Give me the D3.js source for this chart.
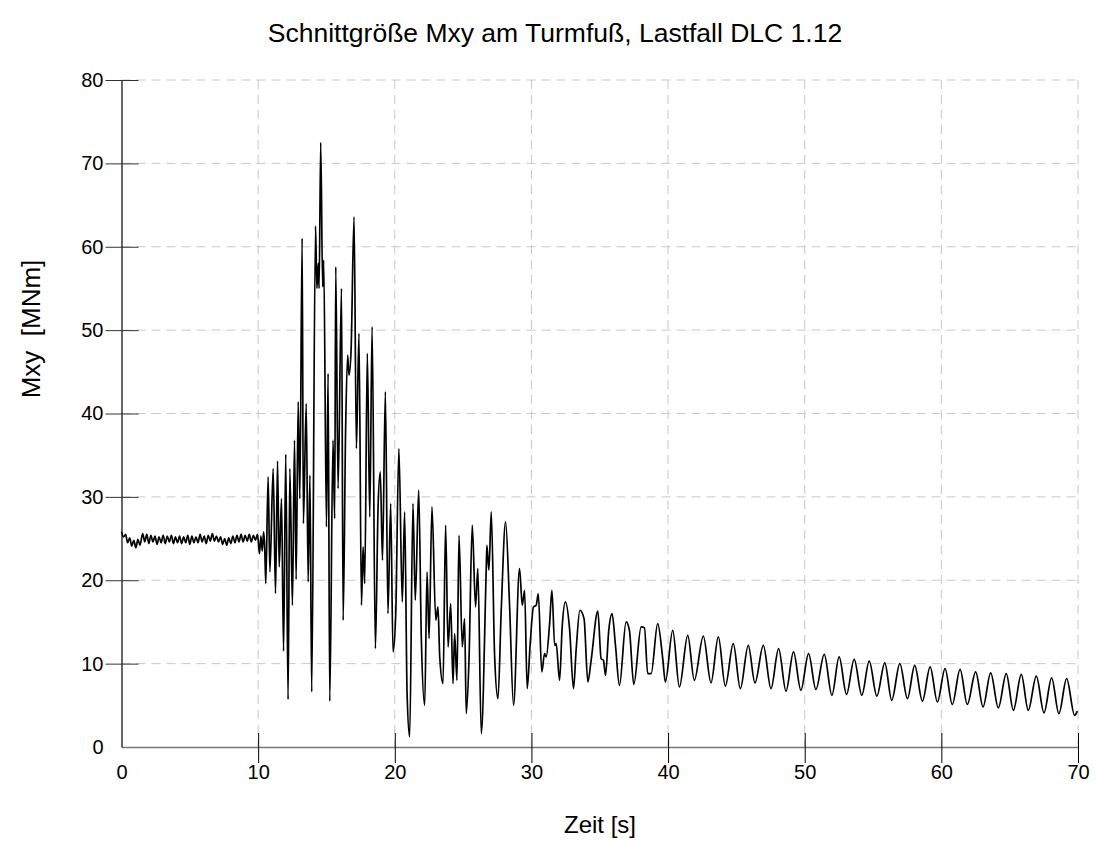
<!DOCTYPE html>
<html>
<head>
<meta charset="utf-8">
<script src="https://cdn.jsdelivr.net/npm/d3@7"></script>
<style>
  body { margin: 0; background: #fff; }
  text { font-family: "Liberation Sans", Arial, sans-serif; fill: #000; }
</style>
</head>
<body>
<div id="chart"></div>
<script>
// time [s] of each read point
var zeit = [
  0.00, 0.15, 0.30, 0.45, 0.60, 0.75, 0.90, 1.05, 1.20, 1.35, 1.55, 1.70, 1.85, 2.00, 2.15, 2.30,
  2.45, 2.60, 2.75, 2.90, 3.05, 3.20, 3.35, 3.50, 3.65, 3.80, 3.95, 4.10, 4.25, 4.40, 4.55, 4.70,
  4.85, 5.00, 5.15, 5.30, 5.45, 5.60, 5.75, 5.90, 6.05, 6.20, 6.35, 6.50, 6.65, 6.80, 6.95, 7.10,
  7.25, 7.40, 7.55, 7.70, 7.85, 8.00, 8.15, 8.30, 8.45, 8.60, 8.75, 8.90, 9.05, 9.20, 9.35, 9.50,
  9.65, 9.80, 9.95, 10.10, 10.20, 10.30, 10.40, 10.48,
  10.56, 10.73, 10.86, 11.10, 11.27, 11.42, 11.54, 11.71, 11.86, 12.02, 12.19, 12.32, 12.51, 12.66,
  12.78, 12.93, 13.05, 13.22, 13.31, 13.52, 13.66, 13.79, 13.92, 14.20, 14.30, 14.40, 14.46, 14.58,
  14.72, 14.80, 15.00, 15.12, 15.24, 15.48, 15.60, 15.68, 15.85, 16.10, 16.22, 16.40, 16.55, 16.65,
  16.80, 17.02, 17.19, 17.38, 17.56, 17.68, 17.80, 17.99, 18.17, 18.34, 18.58, 18.78, 18.94, 19.10,
  19.31, 19.50, 19.70, 19.87, 20.07, 20.30, 20.55, 20.72, 20.90, 21.09, 21.33, 21.50, 21.75, 21.94,
  22.19, 22.36, 22.51, 22.72, 23.00, 23.16, 23.29, 23.53, 23.72, 23.90, 24.09, 24.26, 24.38, 24.55,
  24.70, 24.94, 25.11, 25.23, 25.43, 25.67, 25.91, 26.08, 26.33, 26.69, 26.74, 26.89, 27.06, 27.30,
  27.55, 27.79, 28.11, 28.40, 28.69, 29.13, 29.33, 29.50, 29.69, 29.91, 30.15, 30.35, 30.50, 30.76,
  30.96, 31.08, 31.33, 31.50, 31.70, 31.81, 32.06, 32.25, 32.49, 32.79, 33.08, 33.27, 33.55, 33.85,
  34.13, 34.37, 34.86, 35.10, 35.27, 35.42, 35.66, 35.90, 36.15, 36.44, 36.93, 37.17, 37.49, 38.03,
  38.27, 38.51, 38.76, 39.24, 39.61, 39.80, 40.34, 40.83, 41.44, 41.92, 42.58, 43.14, 43.68, 44.19,
  44.77, 45.29, 45.87, 46.36, 46.97, 47.53, 48.09, 48.63, 49.18, 49.72, 50.28, 50.82, 51.43, 51.99,
  52.52, 53.06, 53.62, 54.18, 54.72, 55.28, 55.86, 56.37, 56.96, 57.52, 58.05, 58.61, 59.18, 59.71,
  60.27, 60.80, 61.37, 61.90, 62.51, 63.05, 63.61, 64.17, 64.75, 65.27, 65.85, 66.36, 66.95, 67.51,
  68.07, 68.60, 69.17, 69.75, 69.95
]
// Mxy [MNm] at each read point
var mxy = [
  25.8, 25.2, 25.5, 24.5, 25.1, 24.1, 24.8, 23.9, 24.9, 24.2, 25.6, 24.6, 25.5, 24.4, 25.4, 24.6,
  25.3, 24.3, 25.2, 24.5, 25.4, 24.4, 25.3, 24.6, 25.4, 24.4, 25.2, 24.5, 25.3, 24.4, 25.2, 24.5,
  25.4, 24.3, 25.3, 24.5, 25.2, 24.5, 25.5, 24.6, 25.3, 24.4, 25.4, 24.7, 25.6, 24.7, 25.3, 24.6,
  25.2, 24.3, 25.0, 24.2, 25.1, 24.4, 25.3, 24.5, 25.4, 24.6, 25.5, 24.6, 25.4, 24.7, 25.5, 24.6,
  25.4, 24.8, 25.5, 23.2, 25.3, 23.5, 25.8, 24.0,
  19.6, 32.4, 21.0, 33.4, 18.4, 34.3, 21.6, 29.8, 11.5, 35.1, 5.7, 33.4, 17.0, 36.8,
  20.1, 41.4, 29.8, 61.0, 26.8, 41.2, 19.8, 32.6, 6.6, 62.5, 55.0, 58.0, 55.0, 72.5,
  55.2, 58.4, 26.4, 44.8, 5.5, 36.8, 27.4, 57.6, 31.0, 55.0, 15.2, 38.0, 47.0, 44.6,
  47.5, 63.6, 35.8, 49.6, 17.0, 24.0, 19.6, 47.2, 27.6, 50.4, 11.8, 29.0, 33.0, 22.4,
  42.6, 16.0, 29.2, 11.4, 16.0, 35.8, 17.4, 28.2, 6.4, 1.2, 29.2, 17.6, 30.8, 13.2,
  5.0, 21.0, 13.0, 28.8, 15.2, 16.8, 10.8, 7.6, 26.6, 12.0, 17.2, 7.6, 13.6, 8.0,
  25.4, 12.0, 15.4, 4.0, 10.4, 26.6, 16.8, 21.4, 1.6, 21.2, 24.2, 21.2, 28.2, 11.2,
  5.8, 16.4, 27.0, 17.0, 5.0, 21.4, 17.0, 18.8, 7.0, 12.4, 16.8, 17.0, 18.4, 9.0,
  11.2, 10.8, 14.8, 18.8, 12.2, 12.4, 8.0, 14.4, 17.4, 14.2, 7.0, 11.6, 16.4, 15.4,
  7.8, 10.4, 16.3, 10.6, 10.4, 8.6, 14.0, 16.0, 12.2, 7.4, 15.0, 14.0, 7.5, 14.4,
  14.3, 8.8, 8.8, 14.8, 10.6, 7.8, 14.0, 7.2, 13.4, 8.0, 13.3, 7.7, 13.2, 7.3,
  12.4, 7.0, 12.2, 7.7, 12.2, 7.0, 11.8, 6.7, 11.4, 6.8, 11.2, 6.9, 11.1, 6.2,
  10.8, 6.3, 10.5, 6.2, 10.3, 6.1, 10.1, 5.6, 10.0, 5.8, 9.8, 5.5, 9.6, 5.4,
  9.4, 5.1, 9.3, 5.1, 9.0, 4.8, 8.9, 4.7, 8.8, 4.4, 8.7, 4.4, 8.5, 4.1,
  8.3, 4.0, 8.2, 3.8, 4.3
]
var xTicks = [0, 10, 20, 30, 40, 50, 60, 70]
var yTicks = [0, 10, 20, 30, 40, 50, 60, 70, 80]

var titel = "Schnittgröße Mxy am Turmfuß, Lastfall DLC 1.12"
var xTitel = "Zeit [s]"
var yTitel = "Mxy\u00a0\u00a0[MNm]"

var W = 1096, H = 841
var margin = {top: 80, right: 18, bottom: 94, left: 121.5}
var width = W - margin.left - margin.right,
    height = H - margin.top - margin.bottom

var data = zeit.map(function(t, i) { return {t: t, v: mxy[i]} })

var svg = d3.select("#chart").append("svg")
  .attr("width", W)
  .attr("height", H)

var g = svg.append("g")
  .attr("transform", "translate(" + margin.left + "," + margin.top + ")")

var x = d3.scaleLinear().domain([0, 70]).range([0, width])
var y = d3.scaleLinear().domain([0, 80]).range([height, 0])

// grid
g.append("g").selectAll("line")
  .data(xTicks.filter(function(d) { return d > 0 }))
  .enter().append("line")
  .attr("x1", function(d) { return x(d) }).attr("x2", function(d) { return x(d) })
  .attr("y1", 0).attr("y2", height)
  .attr("stroke", "#c8c8c8").attr("stroke-dasharray", "9,6")

g.append("g").selectAll("line")
  .data(yTicks.filter(function(d) { return d > 0 }))
  .enter().append("line")
  .attr("x1", 0).attr("x2", width)
  .attr("y1", function(d) { return y(d) }).attr("y2", function(d) { return y(d) })
  .attr("stroke", "#c8c8c8").attr("stroke-dasharray", "9,6")

// x axis
var xAxis = g.append("g")
  .attr("transform", "translate(0," + height + ")")
  .call(d3.axisBottom(x).tickValues(xTicks).tickSizeInner(16).tickSizeOuter(0).tickPadding(2))
xAxis.select(".domain").attr("stroke", "#777").attr("stroke-width", 1.6)
xAxis.selectAll(".tick line")
  .attr("y1", -14)
  .attr("stroke", "#000")
  .style("display", function(d) { return d == 0 ? "none" : null })
xAxis.selectAll(".tick text")
  .style("font-size", "20px")
  .style("font-family", "Liberation Sans, Arial, sans-serif")

// y axis
var yAxis = g.append("g")
  .call(d3.axisLeft(y).tickValues(yTicks).tickSizeInner(16).tickSizeOuter(0).tickPadding(2))
yAxis.select(".domain").attr("stroke", "#000").attr("stroke-width", 1.2)
yAxis.selectAll(".tick line")
  .attr("x1", 17)
  .attr("stroke", "#333")
  .style("display", function(d) { return d == 0 ? "none" : null })
yAxis.selectAll(".tick text")
  .style("font-size", "20px")
  .style("font-family", "Liberation Sans, Arial, sans-serif")

// the line
var line = d3.line()
  .x(function(d) { return x(d.t) })
  .y(function(d) { return y(d.v) })
  .curve(d3.curveMonotoneX)

g.append("path")
  .datum(data)
  .attr("fill", "none")
  .attr("stroke", "#000")
  .attr("stroke-width", 1.7)
  .attr("stroke-linejoin", "round")
  .attr("d", line)

// titles
svg.append("text")
  .attr("x", 555).attr("y", 42)
  .attr("text-anchor", "middle")
  .style("font-size", "26.5px")
  .text(titel)

svg.append("text")
  .attr("x", 600).attr("y", 833)
  .attr("text-anchor", "middle")
  .style("font-size", "24px")
  .text(xTitel)

svg.append("text")
  .attr("transform", "translate(40,329) rotate(-90)")
  .attr("text-anchor", "middle")
  .style("font-size", "26px")
  .text(yTitel)
</script>
</body>
</html>
